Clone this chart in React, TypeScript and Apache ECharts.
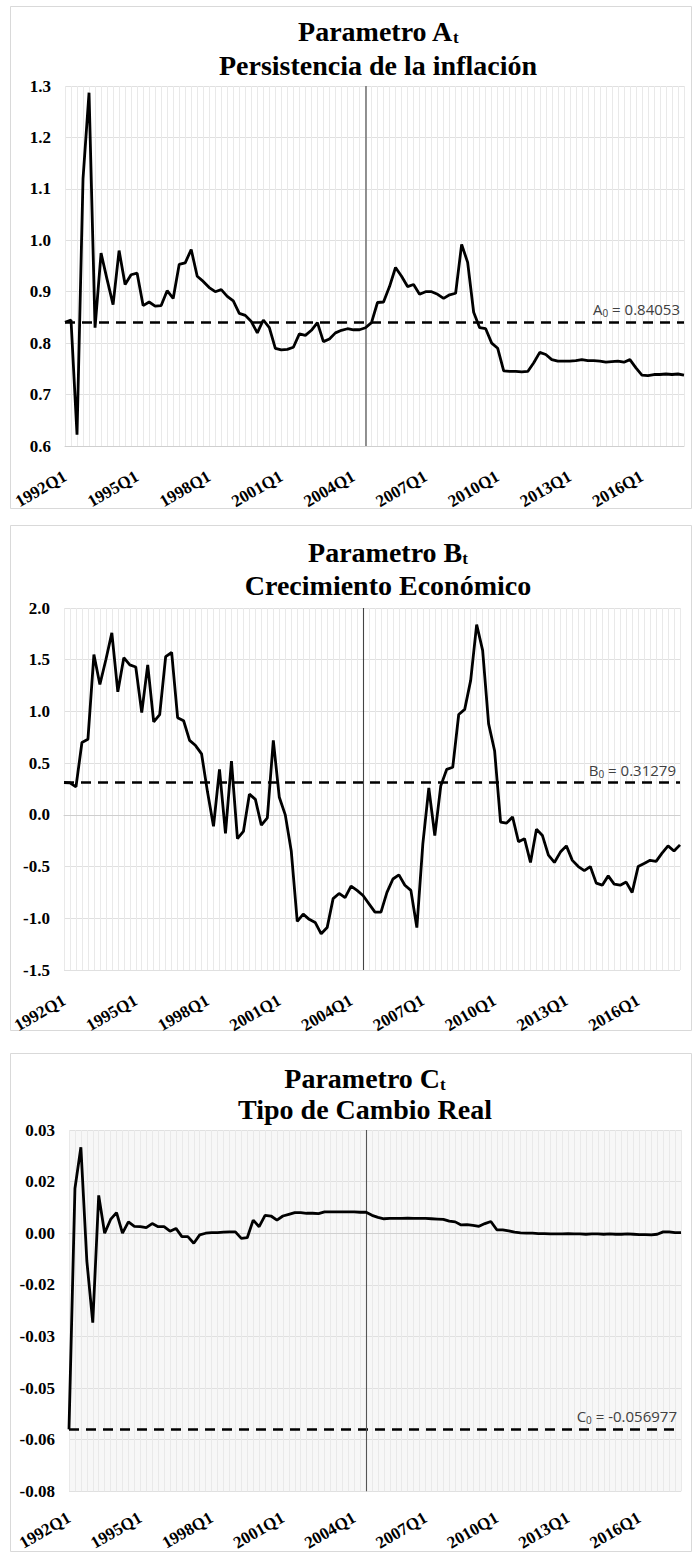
import React, { useEffect, useRef } from "react";
import * as echarts from "echarts";

const quarters: string[] = [
  "1992Q1", "1992Q2", "1992Q3", "1992Q4", "1993Q1", "1993Q2", "1993Q3", "1993Q4",
  "1994Q1", "1994Q2", "1994Q3", "1994Q4", "1995Q1", "1995Q2", "1995Q3", "1995Q4",
  "1996Q1", "1996Q2", "1996Q3", "1996Q4", "1997Q1", "1997Q2", "1997Q3", "1997Q4",
  "1998Q1", "1998Q2", "1998Q3", "1998Q4", "1999Q1", "1999Q2", "1999Q3", "1999Q4",
  "2000Q1", "2000Q2", "2000Q3", "2000Q4", "2001Q1", "2001Q2", "2001Q3", "2001Q4",
  "2002Q1", "2002Q2", "2002Q3", "2002Q4", "2003Q1", "2003Q2", "2003Q3", "2003Q4",
  "2004Q1", "2004Q2", "2004Q3", "2004Q4", "2005Q1", "2005Q2", "2005Q3", "2005Q4",
  "2006Q1", "2006Q2", "2006Q3", "2006Q4", "2007Q1", "2007Q2", "2007Q3", "2007Q4",
  "2008Q1", "2008Q2", "2008Q3", "2008Q4", "2009Q1", "2009Q2", "2009Q3", "2009Q4",
  "2010Q1", "2010Q2", "2010Q3", "2010Q4", "2011Q1", "2011Q2", "2011Q3", "2011Q4",
  "2012Q1", "2012Q2", "2012Q3", "2012Q4", "2013Q1", "2013Q2", "2013Q3", "2013Q4",
  "2014Q1", "2014Q2", "2014Q3", "2014Q4", "2015Q1", "2015Q2", "2015Q3", "2015Q4",
  "2016Q1", "2016Q2", "2016Q3", "2016Q4", "2017Q1", "2017Q2", "2017Q3", "2017Q4",
];

const paramA: number[] = [
  0.8405, 0.845, 0.622, 1.12, 1.287, 0.83, 0.975, 0.924, 0.875, 0.98,
  0.914, 0.933, 0.936, 0.873, 0.88, 0.872, 0.873, 0.902, 0.887, 0.953,
  0.956, 0.982, 0.93, 0.92, 0.908, 0.9, 0.904, 0.891, 0.882, 0.858,
  0.854, 0.842, 0.82, 0.845, 0.83, 0.79, 0.787, 0.788, 0.792, 0.818,
  0.815, 0.825, 0.84, 0.803, 0.808, 0.82, 0.825, 0.828, 0.826, 0.826,
  0.83, 0.84, 0.879, 0.88, 0.91, 0.947, 0.93, 0.91, 0.914, 0.895,
  0.9, 0.9, 0.895, 0.887, 0.894, 0.897, 0.992, 0.957, 0.86, 0.83,
  0.828, 0.8, 0.79, 0.746, 0.745, 0.745, 0.744, 0.745, 0.762, 0.782,
  0.778, 0.768, 0.765, 0.765, 0.765, 0.766, 0.768, 0.766, 0.766, 0.765,
  0.763, 0.764, 0.765, 0.763, 0.768, 0.752, 0.738, 0.737, 0.739, 0.739,
  0.74, 0.739, 0.74, 0.738,
];

const paramB: number[] = [
  0.3128, 0.31, 0.27, 0.7, 0.73, 1.55, 1.26, 1.5, 1.76, 1.19,
  1.52, 1.45, 1.43, 0.99, 1.45, 0.9, 0.97, 1.53, 1.57, 0.94,
  0.91, 0.72, 0.67, 0.59, 0.22, -0.11, 0.44, -0.18, 0.52, -0.23,
  -0.16, 0.2, 0.15, -0.1, -0.03, 0.72, 0.17, 0.0, -0.35, -1.03,
  -0.96, -1.01, -1.04, -1.15, -1.09, -0.81, -0.76, -0.8, -0.69, -0.73,
  -0.78, -0.86, -0.94, -0.94, -0.75, -0.62, -0.58, -0.68, -0.73, -1.09,
  -0.28, 0.26, -0.2, 0.28, 0.44, 0.46, 0.97, 1.02, 1.3, 1.84,
  1.59, 0.88, 0.62, -0.07, -0.08, -0.02, -0.26, -0.23, -0.46, -0.14,
  -0.2, -0.39, -0.46, -0.36, -0.3, -0.44, -0.5, -0.54, -0.5, -0.66,
  -0.68, -0.59, -0.67, -0.68, -0.65, -0.75, -0.5, -0.47, -0.44, -0.45,
  -0.37, -0.3, -0.35, -0.29,
];

const paramC: number[] = [
  -0.057, 0.013, 0.025, -0.008, -0.026, 0.011, 0.0, 0.004, 0.006, 0.0,
  0.0033, 0.002, 0.0019, 0.0016, 0.0028, 0.0019, 0.0019, 0.0006, 0.0014, -0.001,
  -0.001, -0.0029, -0.0005, 0.0, 0.0002, 0.0002, 0.0003, 0.0004, 0.0004, -0.0015,
  -0.0013, 0.0038, 0.0019, 0.0052, 0.005, 0.0038, 0.005, 0.0055, 0.006, 0.006,
  0.0058, 0.0058, 0.0057, 0.0062, 0.0062, 0.0062, 0.0062, 0.0062, 0.0062, 0.0061,
  0.0061, 0.0052, 0.0046, 0.0042, 0.0043, 0.0043, 0.0043, 0.0044, 0.0043, 0.0043,
  0.0043, 0.0042, 0.0041, 0.004, 0.0035, 0.0033, 0.0024, 0.0025, 0.0023, 0.002,
  0.0028, 0.0034, 0.001, 0.001, 0.0007, 0.0003, 0.0001, 0.0, 0.0, -0.0001,
  -0.0001, -0.0002, -0.0002, -0.0002, -0.0001, -0.0002, -0.0002, -0.0003, -0.0002, -0.0002,
  -0.0003, -0.0002, -0.0003, -0.0003, -0.0002, -0.0003, -0.0004, -0.0004, -0.0005, -0.0003,
  0.0004, 0.0004, 0.0002, 0.0002,
];

const refValues: number[] = [0.84053, 0.31279, -0.056977];
const refNames: string[] = ["A", "B", "C"];
const refTexts: string[] = [" = 0.84053", " = 0.31279", " = -0.056977"];
const titleLetters: string[] = ["A", "B", "C"];
const subtitles: string[] = ["Persistencia de la inflación", "Crecimiento Económico", "Tipo de Cambio Real"];
const breakQuarter = "2004Q3";

const yMins: number[] = [0.6, -1.5, -0.075];
const yMaxs: number[] = [1.3, 2.0, 0.03];
const yIntervals: number[] = [0.1, 0.5, 0.015];

const SERIF = '"Liberation Serif", "Times New Roman", serif';
const SANS = '"Open Sans", "Liberation Sans", sans-serif';

const layout = [
  { box: [10, 6, 681, 502], grid: { left: 65, top: 86, width: 619, height: 360 }, t1: 31, t2: 65, cx: 378, margin: 29, bg: "transparent", vline: "#777", vw: 1.6 },
  { box: [10, 525, 681, 505], grid: { left: 64, top: 608, width: 616, height: 362 }, t1: 552, t2: 585, cx: 388, margin: 29, bg: "transparent", vline: "#444", vw: 1.1 },
  { box: [10, 1053, 681, 498], grid: { left: 69, top: 1130, width: 612, height: 367 }, t1: 1078, t2: 1109, cx: 365, margin: 25, bg: "#f7f7f7", vline: "#555", vw: 1.1 },
];

function fmt1(v: number) {
  return v.toFixed(1);
}
function fmt2(v: number) {
  const r = Math.round(Math.abs(v) * 100 + 1e-6) / 100;
  return (v < -1e-9 && r > 0 ? "-" : "") + r.toFixed(2);
}

function buildOption() {
  const seriesData = [paramA, paramB, paramC];
  const grids: any[] = [];
  const xAxes: any[] = [];
  const yAxes: any[] = [];
  const series: any[] = [];
  const graphics: any[] = [];

  layout.forEach((L, k) => {
    grids.push({
      ...L.grid,
      show: L.bg !== "transparent",
      backgroundColor: L.bg,
      borderWidth: 0,
      containLabel: false,
    });
    xAxes.push({
      type: "category",
      gridIndex: k,
      data: quarters,
      boundaryGap: false,
      axisLine: { show: true, lineStyle: { color: "#cfcfcf", width: 1 } },
      axisTick: { show: false },
      axisLabel: {
        interval: 11,
        rotate: 30,
        margin: L.margin,
        fontFamily: SERIF,
        fontWeight: "bold",
        fontSize: 17,
        color: "#000",
      },
      splitLine: { show: true, interval: 0, lineStyle: { color: "#e9e9e9", width: 1 } },
    });
    yAxes.push({
      type: "value",
      gridIndex: k,
      min: yMins[k],
      max: yMaxs[k],
      interval: yIntervals[k],
      axisLine: { show: false },
      axisTick: { show: false },
      axisLabel: {
        formatter: k === 2 ? fmt2 : fmt1,
        fontFamily: SERIF,
        fontWeight: "bold",
        fontSize: 17,
        color: "#000",
        margin: 14,
      },
      splitLine: { show: true, lineStyle: { color: "#e0e0e0", width: 1 } },
    });
    series.push({
      type: "line",
      xAxisIndex: k,
      yAxisIndex: k,
      data: seriesData[k],
      symbol: "none",
      smooth: false,
      lineStyle: { color: "#000", width: 2.8 },
      z: 5,
      markLine: {
        silent: true,
        symbol: "none",
        precision: 6,
        animation: false,
        data: [
          {
            yAxis: refValues[k],
            lineStyle: { type: [10, 7], color: "#000", width: 2.5 },
            label: {
              show: true,
              position: "insideEndTop",
              distance: 4,
              formatter: `{v|${refNames[k]}}{s|0}{v|${refTexts[k]}}`,
              rich: {
                v: { fontFamily: SANS, fontSize: 15, color: "#404040", lineHeight: 18 },
                s: { fontFamily: SANS, fontSize: 10, color: "#404040", lineHeight: 8, verticalAlign: "bottom" },
              },
            },
          },
          {
            xAxis: breakQuarter,
            lineStyle: { type: "solid", color: L.vline, width: L.vw },
            label: { show: false },
          },
        ],
      },
    });
    const [bx, by, bw, bh] = L.box;
    graphics.push({
      type: "rect",
      silent: true,
      z: -10,
      shape: { x: bx + 0.5, y: by + 0.5, width: bw, height: bh },
      style: { fill: "none", stroke: "#d9d9d9", lineWidth: 1 },
    });
    graphics.push({
      type: "text",
      silent: true,
      x: L.cx,
      y: L.t1,
      style: {
        text: `{m|Parametro ${titleLetters[k]}}{s|t}`,
        align: "center",
        verticalAlign: "middle",
        fill: "#000",
        rich: {
          m: { fontFamily: SERIF, fontWeight: "bold", fontSize: 28, lineHeight: 30, fill: "#000" },
          s: { fontFamily: SERIF, fontWeight: "bold", fontSize: 17, lineHeight: 10, verticalAlign: "bottom", fill: "#000" },
        },
      },
    });
    graphics.push({
      type: "text",
      silent: true,
      x: L.cx,
      y: L.t2,
      style: {
        text: subtitles[k],
        align: "center",
        verticalAlign: "middle",
        fill: "#000",
        fontFamily: SERIF,
        fontWeight: "bold",
        fontSize: 28,
      },
    });
  });

  return {
    animation: false,
    backgroundColor: "#fff",
    grid: grids,
    xAxis: xAxes,
    yAxis: yAxes,
    series,
    graphic: { elements: graphics },
  };
}

export default function App() {
  const ref = useRef<HTMLDivElement>(null);
  useEffect(() => {
    const el = ref.current;
    if (!el) return;
    const chart = echarts.init(el, undefined, { renderer: "svg" });
    chart.setOption(buildOption() as any);
    return () => chart.dispose();
  }, []);
  return (
    <div
      ref={ref}
      style={{ position: "absolute", left: 0, top: 0, width: 694, height: 1553 }}
    />
  );
}
